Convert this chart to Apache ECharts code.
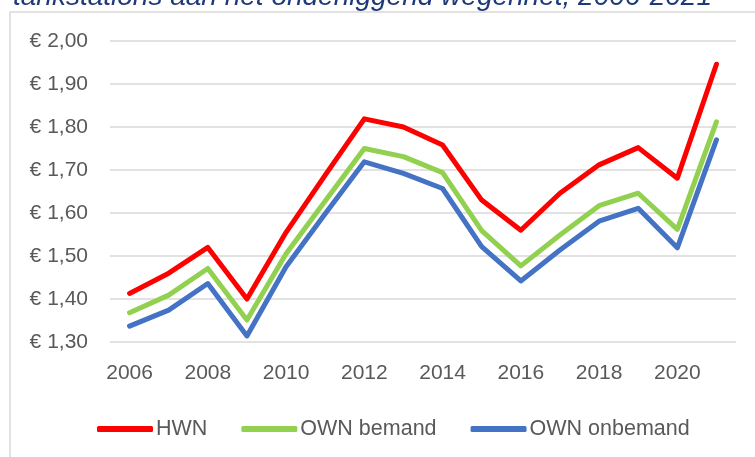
<!DOCTYPE html>
<html>
<head>
<meta charset="utf-8">
<script src="https://cdn.jsdelivr.net/npm/echarts@6/dist/echarts.min.js"></script>
<style>
  html, body { margin: 0; padding: 0; background: #fff; }
  #chart { width: 755px; height: 457px; }
</style>
</head>
<body>
<div id="chart"></div>
<script>
  // jaren
  const years = ['2006', '2007', '2008', '2009', '2010', '2011', '2012', '2013',
    '2014', '2015', '2016', '2017', '2018', '2019', '2020', '2021']
  const hwn = [1.413, 1.460, 1.520, 1.400, 1.555, 1.688, 1.819, 1.800,
    1.758, 1.630, 1.560, 1.646, 1.712, 1.752, 1.681, 1.946]
  const ownBemand = [1.368, 1.409, 1.471, 1.351, 1.505, 1.628, 1.750, 1.731,
    1.694, 1.559, 1.477, 1.549, 1.617, 1.646, 1.562, 1.812]
  const ownOnbemand = [1.337, 1.374, 1.436, 1.314, 1.475, 1.598, 1.719, 1.692,
    1.657, 1.522, 1.442, 1.514, 1.581, 1.611, 1.519, 1.770]
  const seriesNames = ['HWN', 'OWN bemand', 'OWN onbemand']
  const titleText = 'tankstations aan het onderliggend wegennet, 2006-2021'

  const font = '"Liberation Sans", Arial, sans-serif'
  const colors = ['#ff0000', '#92d050', '#4472c4']

  let chart = echarts.init(document.getElementById('chart'))

  function line(name, data, i) {
    return {
      name: name,
      type: 'line',
      data: data,
      symbol: 'none',
      color: colors[i],
      lineStyle: { width: 5, color: colors[i], cap: 'round', join: 'round' }
    }
  }

  chart.setOption({
    animation: false,
    textStyle: { fontFamily: font },
    graphic: [
      {
        type: 'rect',
        shape: { x: 10, y: 12, width: 800, height: 500 },
        style: { fill: 'none', stroke: '#d9d9d9', lineWidth: 1.5 },
        z: -1
      },
      {
        type: 'text',
        left: 13,
        top: -17,
        style: {
          text: titleText,
          fill: '#1f3a7a',
          font: 'italic 28px ' + font
        }
      }
    ],
    grid: { left: 110, right: 19, top: 41, bottom: 115 },
    legend: {
      data: seriesNames,
      left: 92,
      top: 413,
      icon: 'roundRect',
      itemWidth: 56,
      itemHeight: 6,
      itemGap: 34,
      textStyle: { color: '#595959', fontSize: 21.5, fontFamily: font, padding: [0, 0, 0, -2] }
    },
    xAxis: {
      type: 'category',
      data: years,
      boundaryGap: true,
      axisLine: { show: false },
      axisTick: { show: false },
      axisLabel: { interval: 1, color: '#595959', fontSize: 21, margin: 21, fontFamily: font }
    },
    yAxis: {
      type: 'value',
      min: 1.3,
      max: 2.0,
      interval: 0.1,
      axisLine: { show: false },
      axisTick: { show: false },
      splitLine: { lineStyle: { color: '#d9d9d9', width: 1.5 } },
      axisLabel: {
        color: '#595959',
        fontSize: 21,
        margin: 22,
        fontFamily: font,
        formatter: v => '€ ' + v.toFixed(2).replace('.', ',')
      }
    },
    series: [
      line(seriesNames[0], hwn, 0),
      line(seriesNames[1], ownBemand, 1),
      line(seriesNames[2], ownOnbemand, 2)
    ]
  })
</script>
</body>
</html>
